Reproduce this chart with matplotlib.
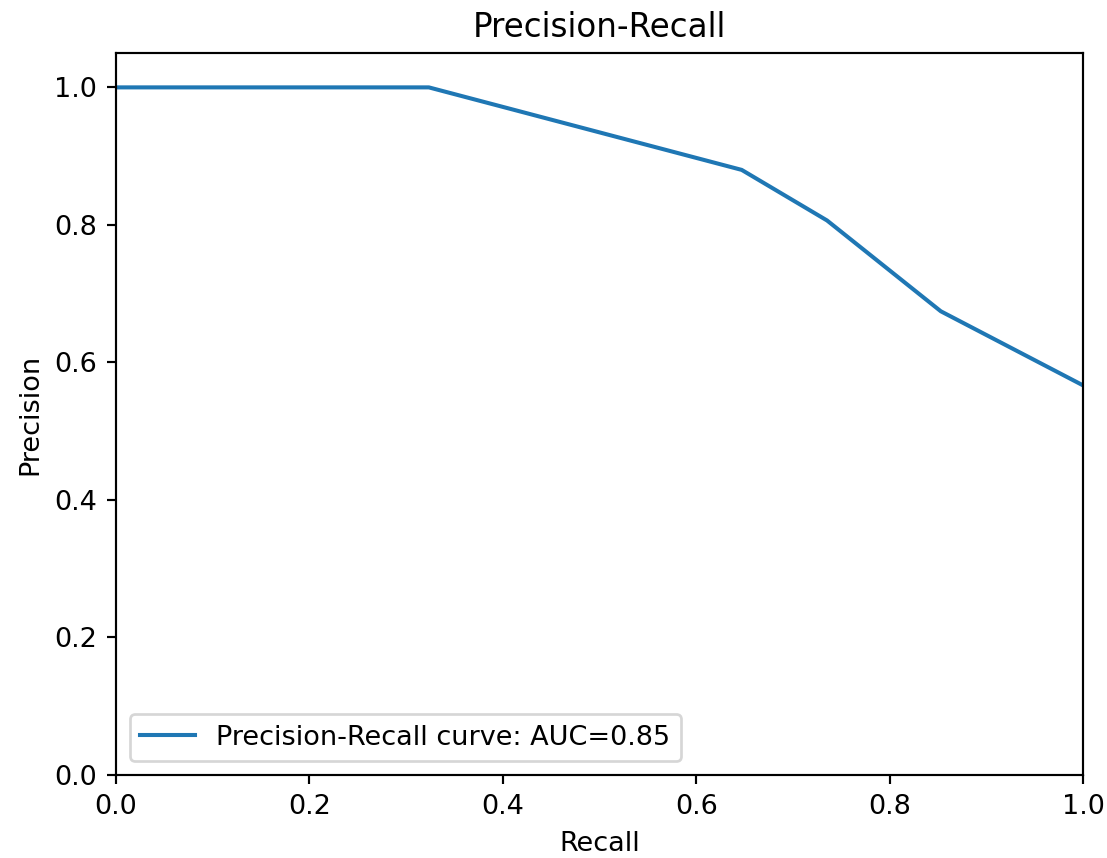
import numpy as np
import matplotlib
matplotlib.use('Agg')
import matplotlib.pyplot as plt

# recall / precision points
recall = [0.0, 11/34, 22/34, 25/34, 29/34, 1.0]
precision = [1.0, 1.0, 22/25, 25/31, 29/43, 34/60]
auc_value = 0.85

dpi = 195
W, H = 1107, 858
fig = plt.figure(figsize=(W / dpi, H / dpi), dpi=dpi)
ax = fig.add_axes([116 / W, (H - 775) / H, 967 / W, 722 / H])

ax.plot(recall, precision, label='Precision-Recall curve: AUC=%.2f' % auc_value)
ax.set_xlim(0, 1.0)
ax.set_ylim(0, 1.05)
ax.set_xlabel('Recall')
ax.set_ylabel('Precision')
ax.set_title('Precision-Recall')
ax.legend(loc='lower left')

fig.savefig('out.png', dpi=dpi)
